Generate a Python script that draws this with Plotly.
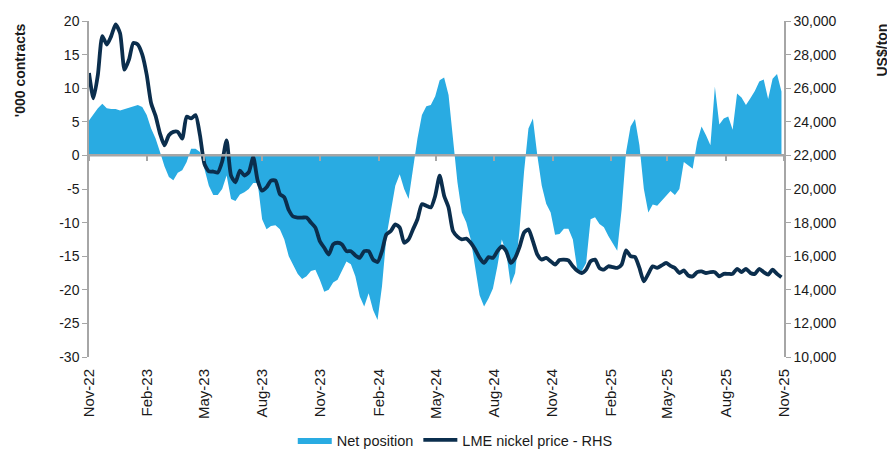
import plotly.graph_objects as go
import pandas as pd

# weekly observations, Nov 2022 - Oct 2025
dates = pd.date_range("2022-11-01", periods=157, freq="7D")

# net position, '000 contracts
net_position = [
    5.2, 6.1, 7.0, 7.7, 7.0, 6.9, 6.9, 6.7, 6.9, 7.1,
    7.3, 7.5, 7.2, 6.0, 4.0, 2.5, 0.5, -1.6, -3.2, -3.7,
    -2.6, -2.2, -1.0, 1.0, 1.0, 0.5, -2.0, -4.5, -5.9, -5.9,
    -5.0, -3.0, -6.5, -6.8, -5.8, -5.5, -5.0, -4.1, -4.1, -9.5,
    -11.0, -10.5, -10.4, -11.0, -12.5, -15.0, -16.3, -17.6, -18.4, -18.0,
    -17.2, -17.0, -18.5, -20.3, -20.0, -18.9, -18.5, -17.2, -15.8, -16.2,
    -18.0, -21.0, -22.5, -20.5, -23.0, -24.5, -19.5, -12.1, -8.0, -4.5,
    -2.8, -5.0, -6.5, -1.7, 2.5, 6.0, 7.3, 7.5, 8.8, 11.2,
    11.6, 9.0, 2.0, -4.0, -8.5, -10.0, -12.5, -16.5, -20.8, -22.5,
    -21.3, -19.8, -16.5, -12.5, -14.5, -19.3, -17.5, -11.0, -2.5, 4.0,
    5.5, 0.0, -4.5, -7.2, -8.5, -11.8, -11.7, -10.9, -10.9, -12.5,
    -17.0, -17.2, -16.0, -9.5, -9.2, -10.2, -10.7, -12.0, -13.0, -14.2,
    -8.0, 0.5, 4.3, 5.4, 1.5, -5.0, -8.5, -7.3, -7.5, -6.8,
    -6.1, -5.3, -5.9, -5.0, -1.0, -1.5, -2.0, 2.0, 4.3, 3.0,
    1.5, 10.2, 4.6, 5.5, 5.8, 3.8, 9.2, 8.6, 7.5, 8.5,
    9.6, 11.0, 11.3, 8.4, 11.4, 12.1, 9.5,
]

# LME nickel price, US$/ton
nickel_price = [
    26900, 25400, 26800, 29100, 28600, 29100, 29800, 29270, 27100, 27700,
    28700, 28600, 28000, 26800, 25100, 24350, 23300, 22600, 23200, 23400,
    23400, 23000, 24300, 24200, 24400, 23200, 21500, 21050, 21040, 20980,
    21640, 22900, 20800, 20400, 21100, 20800, 21000, 21900, 20500, 19900,
    20100, 20500, 20500, 19700, 19500, 18750, 18360, 18300, 18300, 18300,
    18000, 17700, 16900, 16500, 16100, 16700, 16800, 16700, 16300, 16300,
    16050, 15900, 16300, 16300, 15800, 15650, 16300, 17300, 17500, 17900,
    17700, 16800, 17000, 17600, 18200, 19100, 19000, 18900, 19600, 20800,
    19600, 18900, 17500, 17170, 17000, 17050, 16800, 16400, 15900, 15600,
    15950, 15900, 16300, 16580, 16300, 15600, 15900, 16550, 17400, 17600,
    16900, 16100, 15800, 15900, 15700, 15500, 15770, 15800, 15750, 15400,
    15130, 15000, 15200, 15700, 15800, 15300, 15200, 15400, 15350, 15300,
    15500, 16350, 16000, 15950, 15300, 14500, 14950, 15400, 15300, 15450,
    15600, 15420, 15300, 15000, 15150, 14850, 14800, 15050, 15100, 15000,
    15050, 15050, 14800, 14950, 14950, 14950, 15250, 15050, 15250, 15000,
    14950, 15250, 15050, 14900, 15200, 14950, 14750,
]

left_ticks = [20, 15, 10, 5, 0, -5, -10, -15, -20, -25, -30]

FONT = "Liberation Sans, Arial, sans-serif"
GREY = "#a6a6a6"

x_start = "2022-11-01"
x_end = "2025-11-01"

fig = go.Figure()

fig.add_trace(go.Scatter(
    x=dates,
    y=net_position,
    name="Net position",
    mode="lines",
    fill="tozeroy",
    fillcolor="#29abe2",
    line=dict(width=0, color="#29abe2"),
))

fig.add_trace(go.Scatter(
    x=dates,
    y=nickel_price,
    name="LME nickel price - RHS",
    mode="lines",
    line=dict(color="#0b2e4d", width=3.8, shape="spline", smoothing=0.6),
    yaxis="y2",
))

# invisible helper carrying the bottom date labels axis
fig.add_trace(go.Scatter(
    x=[dates[0]], y=[0],
    xaxis="x2",
    mode="markers",
    marker=dict(opacity=0),
    showlegend=False,
    hoverinfo="skip",
))

# horizontal axis line sits on the zero level of the left axis
fig.add_hline(y=0, line=dict(color=GREY, width=2), layer="above")

# page body has an 8px default margin, so the figure is sized to fit inside it
fig.update_layout(
    width=887,
    height=448,
    margin=dict(l=81, r=111, t=13, b=99),
    plot_bgcolor="white",
    paper_bgcolor="white",
    font=dict(family=FONT, size=14, color="#1a1a1a"),
    showlegend=True,
    legend=dict(
        orientation="h",
        x=0.527, xanchor="center", xref="paper",
        y=-0.028, yanchor="bottom", yref="container",
        font=dict(size=14.5),
        itemwidth=34,
    ),
    # tick marks along the zero line
    xaxis=dict(
        type="date",
        range=[x_start, x_end],
        anchor="free",
        position=0.6,
        tick0=x_start,
        dtick="M3",
        showgrid=False,
        showline=True,
        linecolor=GREY,
        linewidth=2,
        ticks="outside",
        ticklen=5,
        tickwidth=1.5,
        tickcolor=GREY,
        showticklabels=False,
        zeroline=False,
        automargin=False,
    ),
    # date labels at the bottom
    xaxis2=dict(
        type="date",
        overlaying="x",
        anchor="y",
        side="bottom",
        range=[x_start, x_end],
        tick0=x_start,
        dtick="M3",
        tickformat="%b-%y",
        tickangle=-90,
        ticklabelstandoff=8,
        showgrid=False,
        showline=False,
        ticks="",
        zeroline=False,
        automargin=False,
        tickfont=dict(size=15),
    ),
    yaxis=dict(
        range=[-30, 20],
        tickvals=left_ticks,
        ticktext=[str(v) for v in left_ticks],
        showgrid=False,
        zeroline=False,
        showline=True,
        linecolor=GREY,
        linewidth=1.5,
        ticks="outside",
        ticklen=5,
        tickcolor=GREY,
        automargin=False,
        tickfont=dict(size=14),
    ),
    yaxis2=dict(
        range=[10000, 30000],
        dtick=2000,
        tickformat=",",
        overlaying="y",
        side="right",
        showgrid=False,
        zeroline=False,
        showline=True,
        linecolor=GREY,
        linewidth=1.5,
        ticks="outside",
        ticklen=5,
        tickcolor=GREY,
        automargin=False,
        tickfont=dict(size=14),
    ),
    annotations=[
        dict(text="<b>'000 contracts</b>", xref="paper", yref="paper",
             x=-0.099, y=1.0, xanchor="center", yanchor="top",
             textangle=-90, showarrow=False, font=dict(size=14)),
        dict(text="<b>US$/ton</b>", xref="paper", yref="paper",
             x=1.141, y=1.0, xanchor="center", yanchor="top",
             textangle=-90, showarrow=False, font=dict(size=14)),
    ],
)

fig.write_html("out.html")
